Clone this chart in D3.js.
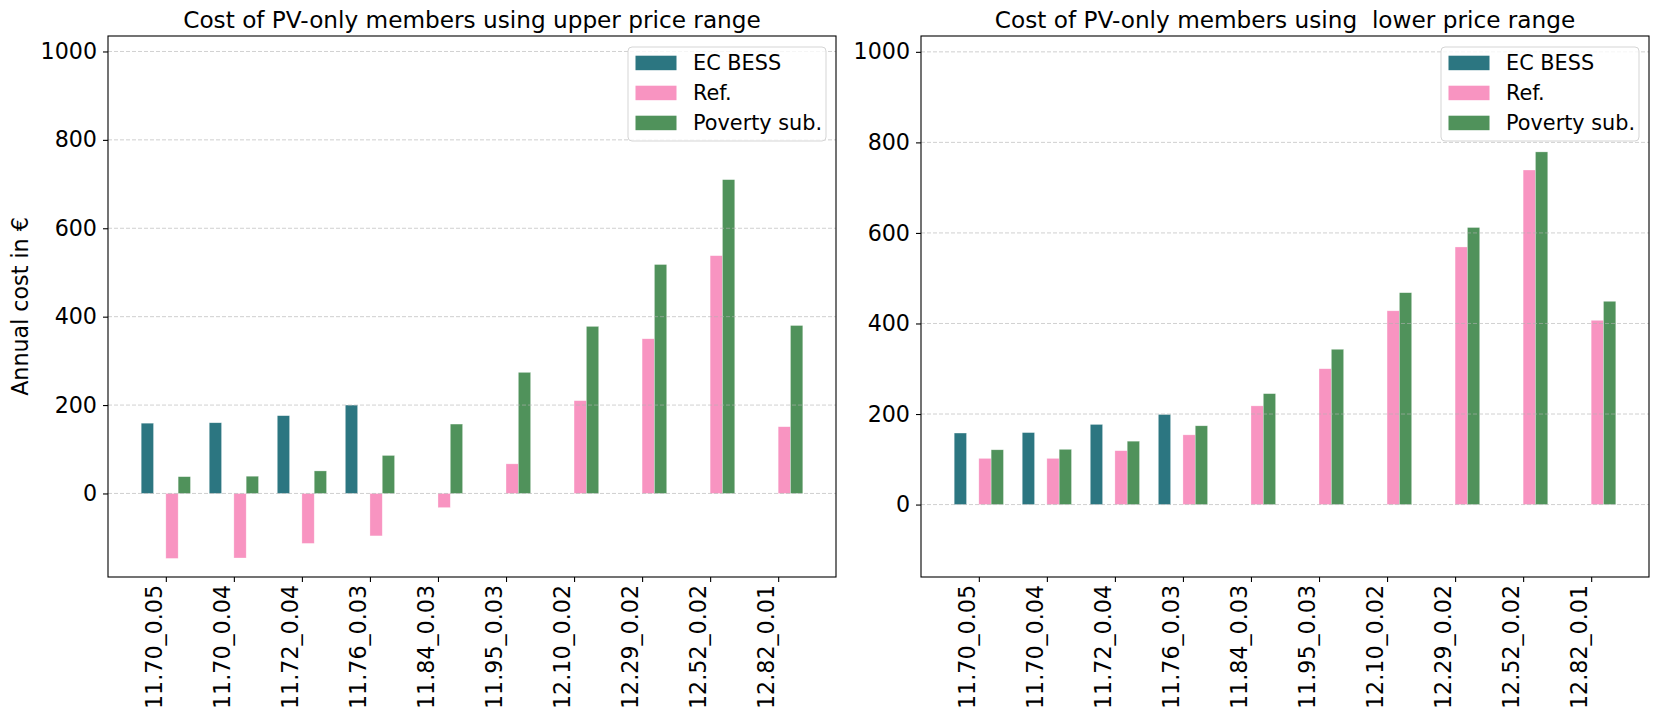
<!DOCTYPE html>
<html>
<head>
<meta charset="utf-8">
<script src="https://cdn.jsdelivr.net/npm/d3@7"></script>
<style>
html,body{margin:0;padding:0;background:#fff;}
svg{display:block;font-family:"DejaVu Sans",sans-serif;}
</style>
</head>
<body>
<svg id="chart" width="1660" height="720"></svg>
<script>
const categories = ["11.70_0.05","11.70_0.04","11.72_0.04","11.76_0.03","11.84_0.03","11.95_0.03","12.10_0.02","12.29_0.02","12.52_0.02","12.82_0.01"];
const seriesNames = ["EC BESS","Ref.","Poverty sub."];
const seriesColors = ["#2c7681","#f894c1","#50925b"];

const upperBESS = [159,160,176,200,null,null,null,null,null,null];
const upperRef  = [-147,-146,-113,-96,-32,67,210,350,538,151];
const upperPov  = [38,39,51,86,157,274,378,518,710,380];

const lowerBESS = [158,159,177,199,null,null,null,null,null,null];
const lowerRef  = [102,102,119,154,218,300,428,569,739,407];
const lowerPov  = [121,122,140,174,245,343,468,612,779,449];

const yTicks = [0,200,400,600,800,1000];
const titles = ["Cost of PV-only members using upper price range","Cost of PV-only members using  lower price range"];
const yLabel = "Annual cost in \u20ac";

const svg = d3.select("#chart");
const FS = 22.2;   // ticks, axis label
const TFS = 23.2;  // titles
const LFS = 20.8;  // legend

function panel(cfg){
  const {left,right,top,bottom,ydom,series,title,showYLabel} = cfg;
  const g = svg.append("g");
  const x = d3.scaleLinear().domain([-0.85, categories.length - 1 + 0.85]).range([left,right]);
  const y = d3.scaleLinear().domain(ydom).range([bottom,top]);
  const w = 0.181;
  const offsets = [-2*w, 0, w];

  series.forEach((vals,si)=>{
    g.append("g").selectAll("rect")
      .data(vals.map((v,i)=>({v,i})).filter(d=>d.v!==null))
      .join("rect")
      .attr("x", d=>x(d.i+offsets[si]))
      .attr("width", d=>x(d.i+offsets[si]+w)-x(d.i+offsets[si]))
      .attr("y", d=>y(Math.max(0,d.v)))
      .attr("height", d=>Math.abs(y(d.v)-y(0)))
      .attr("fill", seriesColors[si])
      .attr("stroke","#ffffff").attr("stroke-opacity",0.5).attr("stroke-width",0.6);
  });

  g.append("g").selectAll("line").data(yTicks).join("line")
    .attr("x1",left).attr("x2",right)
    .attr("y1",d=>y(d)).attr("y2",d=>y(d))
    .attr("stroke","#b0b0b0").attr("stroke-opacity",0.6)
    .attr("stroke-width",1).attr("stroke-dasharray","4,2");

  const ya = d3.axisLeft(y).tickValues(yTicks).tickSize(5).tickPadding(6).tickFormat(d3.format("d"));
  const yg = g.append("g").attr("transform",`translate(${left},0)`).call(ya);
  yg.select(".domain").remove();
  yg.selectAll("line").attr("stroke","#000").attr("stroke-width",1.1);
  yg.selectAll("text").attr("font-size",FS).attr("font-family","DejaVu Sans").attr("fill","#000");

  const xa = d3.axisBottom(x).tickValues(d3.range(categories.length)).tickSize(5).tickFormat(i=>categories[i]);
  const xg = g.append("g").attr("transform",`translate(0,${bottom})`).call(xa);
  xg.select(".domain").remove();
  xg.selectAll("line").attr("stroke","#000").attr("stroke-width",1.1);
  xg.selectAll("text")
    .attr("font-size",FS).attr("font-family","DejaVu Sans").attr("fill","#000")
    .attr("text-anchor","end")
    .attr("transform","rotate(-90)")
    .attr("x",-8).attr("y",-4.5).attr("dy","0");

  g.append("rect").attr("x",left).attr("y",top).attr("width",right-left).attr("height",bottom-top)
    .attr("fill","none").attr("stroke","#000").attr("stroke-width",1.1);

  g.append("text").attr("x",(left+right)/2).attr("y",top-8)
    .attr("text-anchor","middle").attr("font-size",TFS).attr("fill","#000")
    .style("white-space","pre").attr("xml:space","preserve").text(title);

  if(showYLabel){
    g.append("text").attr("transform",`translate(28,${(top+bottom)/2}) rotate(-90)`)
      .attr("text-anchor","middle").attr("font-size",FS).attr("fill","#000").text(yLabel);
  }

  const lx = right-208, ly = top+11, lw = 198, lh = 94;
  const lg = g.append("g");
  lg.append("rect").attr("x",lx).attr("y",ly).attr("width",lw).attr("height",lh)
    .attr("rx",4).attr("fill","#fff").attr("fill-opacity",0.8)
    .attr("stroke","#d5d5d5").attr("stroke-width",1);
  seriesNames.forEach((n,i)=>{
    const cy = ly + 16 + i*30;
    lg.append("rect").attr("x",lx+7.5).attr("y",cy-7.3).attr("width",41).attr("height",14.5).attr("fill",seriesColors[i]);
    lg.append("text").attr("x",lx+65).attr("y",cy).attr("dy","0.36em")
      .attr("font-size",LFS).attr("fill","#000").text(n);
  });
}

panel({left:108,right:836,top:36,bottom:577,ydom:[-189,1035],
  series:[upperBESS,upperRef,upperPov],title:titles[0],showYLabel:true});
panel({left:921,right:1649,top:36,bottom:577,ydom:[-160,1035],
  series:[lowerBESS,lowerRef,lowerPov],title:titles[1],showYLabel:false});
</script>
</body>
</html>
